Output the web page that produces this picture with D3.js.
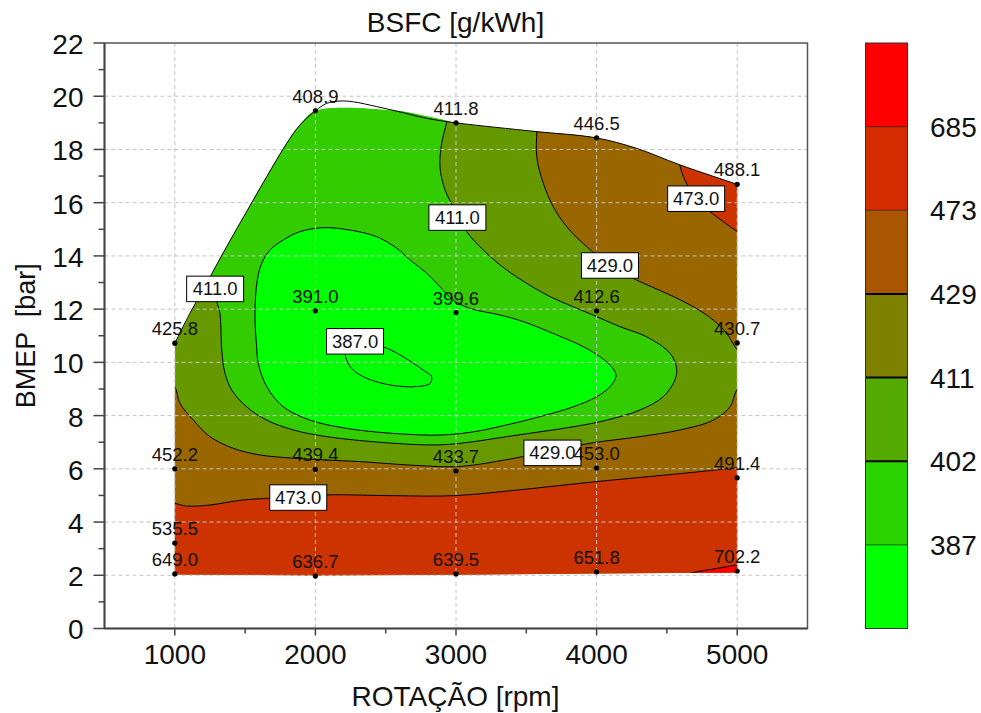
<!DOCTYPE html>
<html>
<head>
<meta charset="utf-8">
<script src="https://cdn.jsdelivr.net/npm/d3@7"></script>
<style>
  body { margin: 0; background: #fff; }
  text { font-family: "Liberation Sans", Arial, sans-serif; fill: #111; }
</style>
</head>
<body>
<svg id="chart" width="981" height="713"></svg>
<script>
// measured operating points (rpm, bmep, bsfc)
var pointRpm  = [1000, 1000, 1000, 1000, 2000, 2000, 2000, 2000, 3000, 3000, 3000, 3000, 4000, 4000, 4000, 4000, 5000, 5000, 5000, 5000];
var pointBmep = [10.72, 6.0, 3.21, 2.05, 19.45, 11.94, 5.98, 1.97, 19.0, 11.87, 5.92, 2.05, 18.44, 11.94, 6.03, 2.13, 16.69, 10.73, 5.66, 2.16];
var pointBsfc = [425.8, 452.2, 535.5, 649.0, 408.9, 391.0, 439.4, 636.7, 411.8, 399.6, 433.7, 639.5, 446.5, 412.6, 453.0, 651.8, 488.1, 430.7, 491.4, 702.2];

// contour levels and colours
var levels = [387, 402, 411, 429, 473, 685];
var legendColors = ["#00ff00", "#2bd400", "#55aa00", "#808000", "#aa5500", "#d42b00", "#ff0000"];
var fillColors = {below402: "#00ff00", below411: "#33cc00", base: "#669900", above429: "#996600", above473: "#cc3300", above685: "#ff0000"};

var xTicks = [1000, 2000, 3000, 4000, 5000];
var xMinor = [1500, 2500, 3500, 4500];
var yTicks = d3.range(0, 23, 2);
var yMinor = d3.range(1, 22, 2);

// map envelope
var envelopeBottom = [[1000, 2.03], [2000, 1.99], [3000, 2.02], [4000, 2.07], [5000, 2.1]];
var envelopeTop = [[5000, 16.69], [4593, 17.42], [4285, 18.04], [3993, 18.44], [3574, 18.67], [3000, 19.0], [2934, 19.08], [2744, 19.3], [2578, 19.45], [2000, 19.45], [1890, 18.92], [1796, 18.23], [1654, 16.98], [1558, 16.1], [1369, 14.35], [1227, 12.98], [1108, 11.85], [1000, 10.72]];
var outline = [[1000, 10.72], [1108, 11.85], [1227, 12.98], [1369, 14.35], [1558, 16.1], [1654, 16.98], [1796, 18.23], [1890, 18.92], [2000, 19.45], [2080, 19.73], [2175, 19.82], [2270, 19.79], [2436, 19.61], [2625, 19.38], [2791, 19.17], [3000, 19.0], [3574, 18.67], [3993, 18.44], [4285, 18.04], [4593, 17.42], [5000, 16.69]];

// isolines
var iso387 = [[2210, 10.34], [2246, 9.84], [2341, 9.46], [2530, 9.15], [2720, 9.09], [2815, 9.21], [2827, 9.46], [2767, 9.71], [2625, 10.21], [2507, 10.53], [2317, 10.77], [2210, 10.65]];
var iso402 = [[1570, 11.84], [1587, 13.09], [1618, 13.72], [1677, 14.22], [1772, 14.6], [1890, 14.91], [2056, 15.06], [2246, 14.97], [2436, 14.72], [2578, 14.29], [2673, 13.85], [2791, 13.35], [2886, 12.84], [2981, 12.34], [3099, 12.03], [3313, 11.78], [3479, 11.53], [3716, 11.03], [3905, 10.59], [4024, 10.21], [4095, 9.9], [4138, 9.53], [4107, 9.15], [4000, 8.71], [3834, 8.33], [3597, 7.96], [3360, 7.65], [3123, 7.39], [2886, 7.27], [2554, 7.33], [2222, 7.52], [1962, 7.83], [1772, 8.33], [1654, 9.09], [1594, 9.96], [1582, 10.59]];
var iso411 = [[2945, 19.5], [2934, 19.04], [2898, 18.23], [2886, 17.35], [2922, 16.48], [2993, 15.73], [3076, 14.91], [3218, 14.1], [3360, 13.47], [3503, 12.97], [3668, 12.47], [3834, 12.09], [4000, 11.72], [4166, 11.34], [4356, 10.96], [4522, 10.34], [4569, 9.79], [4557, 9.34], [4474, 8.71], [4308, 8.21], [4072, 7.83], [3834, 7.58], [3597, 7.39], [3360, 7.21], [3123, 7.02], [2886, 6.9], [2554, 6.96], [2080, 7.21], [1843, 7.46], [1654, 7.83], [1511, 8.33], [1405, 8.96], [1357, 9.59], [1334, 10.46], [1321, 11.84], [1298, 12.28], [1272, 12.72], [1230, 13.1], [1150, 13.8]];
var iso429Low = [[950, 9.3], [1000, 9.09], [1037, 8.46], [1132, 7.83], [1250, 7.21], [1416, 6.77], [1606, 6.52], [1843, 6.4], [2080, 6.33], [2317, 6.27], [2673, 6.14], [2981, 6.08], [3123, 6.14], [3479, 6.46], [3953, 6.96], [4308, 7.21], [4593, 7.46], [4830, 7.83], [4949, 8.33], [4996, 8.96], [5050, 9.3]];
var iso429High = [[3570, 19.3], [3574, 18.67], [3574, 17.73], [3621, 16.73], [3692, 15.85], [3787, 15.1], [3929, 14.35], [4095, 13.66], [4285, 13.09], [4498, 12.59], [4688, 12.09], [4830, 11.59], [4925, 11.09], [4984, 10.59], [5050, 10.2]];
var iso473Low = [[950, 4.7], [1000, 4.7], [1085, 4.6], [1250, 4.64], [1487, 4.83], [1876, 4.94], [2080, 5.02], [2554, 4.99], [2981, 4.99], [3432, 5.2], [4000, 5.52], [4616, 5.83], [4996, 6.04], [5050, 6.07]];
var iso473High = [[4585, 17.9], [4593, 17.39], [4628, 16.85], [4714, 16.1], [4806, 15.66], [4901, 15.29], [4991, 14.95], [5050, 14.8]];
var iso685 = [[4650, 2.05], [4700, 2.12], [4850, 2.25], [5000, 2.39], [5050, 2.43]];

// contour label boxes
var contourLabelRpm  = [1287, 3010, 4095, 4708, 2282, 3686, 1878];
var contourLabelBmep = [12.76, 15.44, 13.64, 16.15, 10.79, 6.6, 4.92];
var contourLabelText = ["411.0", "411.0", "429.0", "473.0", "387.0", "429.0", "473.0"];

var svg = d3.select("#chart");

var x = d3.scaleLinear().domain([500, 5500]).range([104.5, 807.5]);
var y = d3.scaleLinear().domain([0, 22]).range([628.5, 43]);

var curve = d3.line().x(function(d) { return x(d[0]); }).y(function(d) { return y(d[1]); }).curve(d3.curveCatmullRom.alpha(0.5));
var loop = d3.line().x(function(d) { return x(d[0]); }).y(function(d) { return y(d[1]); }).curve(d3.curveCatmullRomClosed.alpha(0.5));

// isoline closed through points outside the envelope (clipped away)
function region(pts, outside) {
  return curve(pts) + outside.map(function(p) { return "L" + x(p[0]) + "," + y(p[1]); }).join("") + "Z";
}

// clip to the measured envelope
var clipPath = "M" + envelopeBottom.map(function(p) { return x(p[0]) + "," + y(p[1]); }).join("L")
  + curve(envelopeTop).replace(/^M/, "L") + "Z";
svg.append("clipPath").attr("id", "env").append("path").attr("d", clipPath);

var fills = svg.append("g").attr("clip-path", "url(#env)");
fills.append("path").attr("d", clipPath).attr("fill", fillColors.base);
fills.append("path").attr("d", region(iso411, [[1300, 21], [2950, 21]])).attr("fill", fillColors.below411);
fills.append("path").attr("d", loop(iso402)).attr("fill", fillColors.below402);
fills.append("path").attr("d", region(iso429Low, [[5100, 0], [900, 0]])).attr("fill", fillColors.above429);
fills.append("path").attr("d", region(iso429High, [[5100, 21], [3570, 21]])).attr("fill", fillColors.above429);
fills.append("path").attr("d", region(iso473Low, [[5100, 0], [900, 0]])).attr("fill", fillColors.above473);
fills.append("path").attr("d", region(iso473High, [[5100, 21], [4585, 21]])).attr("fill", fillColors.above473);
fills.append("path").attr("d", region(iso685, [[5100, 0], [4650, 0]])).attr("fill", fillColors.above685);

// contour lines
var lines = svg.append("g").attr("clip-path", "url(#env)")
  .attr("fill", "none").attr("stroke", "#000").attr("stroke-width", 1);
[iso411, iso429Low, iso429High, iso473Low, iso473High, iso685].forEach(function(pts) {
  lines.append("path").attr("d", curve(pts));
});
lines.append("path").attr("d", loop(iso402));
lines.append("path").attr("d", loop(iso387));

// grid
var grid = svg.append("g").attr("stroke", "#c4c4c4").attr("stroke-dasharray", "4,3").attr("stroke-width", 1);
grid.selectAll(".gx").data(xTicks).enter().append("line")
  .attr("x1", function(d) { return x(d); }).attr("x2", function(d) { return x(d); })
  .attr("y1", y(22)).attr("y2", y(0));
grid.selectAll(".gy").data(yTicks.slice(1, -1)).enter().append("line")
  .attr("x1", x(500)).attr("x2", x(5500))
  .attr("y1", function(d) { return y(d); }).attr("y2", function(d) { return y(d); });

// envelope outline
svg.append("path").attr("d", curve(outline)).attr("fill", "none").attr("stroke", "#000").attr("stroke-width", 1);

// frame
svg.append("rect").attr("x", x(500)).attr("y", y(22)).attr("width", x(5500) - x(500)).attr("height", y(0) - y(22))
  .attr("fill", "none").attr("stroke", "#555").attr("stroke-width", 1.5);

// axes
var yAxis = svg.append("g").attr("transform", "translate(" + x(500) + ",0)")
  .call(d3.axisLeft(y).tickValues(yTicks).tickSize(11).tickPadding(10).tickSizeOuter(0).offset(0));
svg.append("g").attr("transform", "translate(" + x(500) + ",0)")
  .call(d3.axisLeft(y).tickValues(yMinor).tickSize(6).tickFormat("").tickSizeOuter(0).offset(0));
var xAxis = svg.append("g").attr("transform", "translate(0," + y(0) + ")")
  .call(d3.axisBottom(x).tickValues(xTicks).tickFormat(d3.format("d")).tickSize(7).tickPadding(9).tickSizeOuter(0).offset(0));
svg.append("g").attr("transform", "translate(0," + y(0) + ")")
  .call(d3.axisBottom(x).tickValues(xMinor).tickSize(5).tickFormat("").tickSizeOuter(0).offset(0));
svg.selectAll(".domain, .tick line").attr("stroke", "#444").attr("stroke-width", 1.5);
yAxis.selectAll("text").attr("font-size", 28).attr("dy", "0.39em").attr("font-family", null);
xAxis.selectAll("text").attr("font-size", 28).attr("font-family", null);

// titles
svg.append("text").attr("x", 455.5).attr("y", 32).attr("text-anchor", "middle").attr("font-size", 28).text("BSFC [g/kWh]");
svg.append("text").attr("x", 455.5).attr("y", 706).attr("text-anchor", "middle").attr("font-size", 28).text("ROTAÇÃO [rpm]");
svg.append("text").attr("transform", "translate(35," + y(11) + ") rotate(-90)").attr("text-anchor", "middle")
  .attr("font-size", 27).attr("xml:space", "preserve").style("white-space", "pre").text("BMEP  [bar]");

// contour label boxes
var boxes = svg.append("g").selectAll("g").data(contourLabelText).enter().append("g")
  .attr("transform", function(d, i) { return "translate(" + x(contourLabelRpm[i]) + "," + y(contourLabelBmep[i]) + ")"; });
boxes.append("rect").attr("x", -28.5).attr("y", -12.75).attr("width", 57).attr("height", 25.5)
  .attr("fill", "#fff").attr("stroke", "#000").attr("stroke-width", 1);
boxes.append("text").attr("text-anchor", "middle").attr("y", 6.5).attr("font-size", 18.5).text(function(d) { return d; });

// measured points and values
var pts = svg.append("g").selectAll("g").data(pointBsfc).enter().append("g")
  .attr("transform", function(d, i) { return "translate(" + x(pointRpm[i]) + "," + y(pointBmep[i]) + ")"; });
pts.append("circle").attr("r", 2.6).attr("fill", "#000");
pts.append("text").attr("text-anchor", "middle").attr("y", -8).attr("font-size", 18.5).text(function(d) { return d.toFixed(1); });

// colour legend
var ly = d3.scaleLinear().domain([0, legendColors.length]).range([628.5, 43]);
var legend = svg.append("g");
legend.selectAll("rect.band").data(legendColors).enter().append("rect")
  .attr("x", 865.5).attr("width", 42)
  .attr("y", function(d, i) { return ly(i + 1); })
  .attr("height", function(d, i) { return ly(i) - ly(i + 1); })
  .attr("fill", function(d) { return d; });
legend.selectAll("line").data(levels).enter().append("line")
  .attr("x1", 865.5).attr("x2", 907.5)
  .attr("y1", function(d, i) { return ly(i + 1); }).attr("y2", function(d, i) { return ly(i + 1); })
  .attr("stroke", "#000")
  .attr("stroke-width", function(d) { return (d === 402 || d === 411 || d === 429) ? 2 : 1; })
  .attr("stroke-opacity", function(d) { return (d === 402 || d === 411 || d === 429) ? 1 : 0.6; });
legend.append("rect").attr("x", 865.5).attr("y", ly(7)).attr("width", 42).attr("height", ly(0) - ly(7))
  .attr("fill", "none").attr("stroke", "#333").attr("stroke-width", 1);
legend.selectAll("text").data(levels).enter().append("text")
  .attr("x", 930).attr("y", function(d, i) { return ly(i + 1) + 10; })
  .attr("font-size", 28).text(function(d) { return d; });
</script>
</body>
</html>
